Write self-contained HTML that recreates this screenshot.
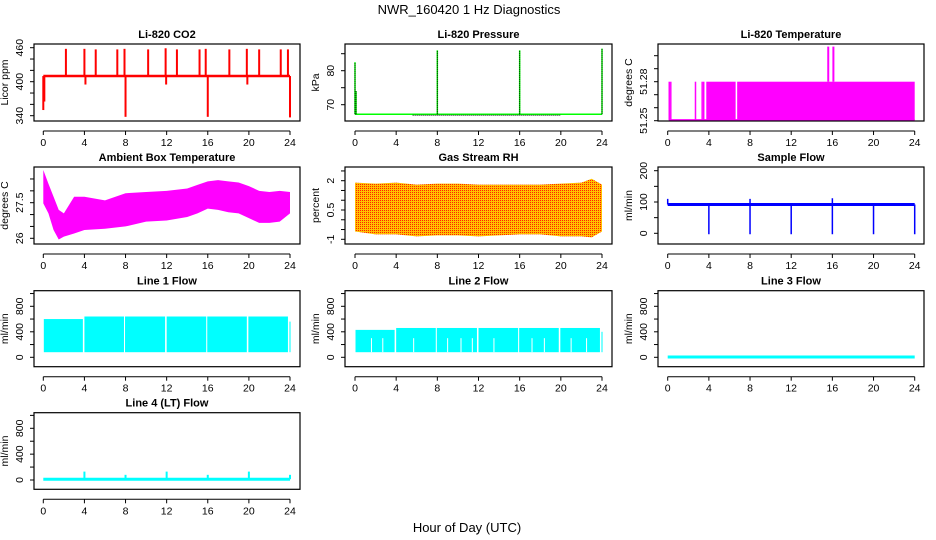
<!DOCTYPE html>
<html><head><meta charset="utf-8"><style>
body{margin:0;background:#fff}
svg{display:block;font-family:"Liberation Sans",sans-serif}
.t{font-weight:bold;font-size:11px}
.tk{font-size:10.5px}
</style></head><body>
<svg id="c" width="936" height="540" viewBox="0 0 936 540">
<defs>
<pattern id="rhp" width="2" height="2" patternUnits="userSpaceOnUse">
<rect width="2" height="2" fill="#ffc000"/><rect width="1" height="1" fill="#ff2000"/>
</pattern>
</defs>
<text x="469" y="14" text-anchor="middle" font-size="13">NWR_160420  1 Hz Diagnostics</text>
<text x="467" y="532" text-anchor="middle" font-size="13">Hour of Day (UTC)</text>
</svg>
<script>
// ---- data ----
const xTicks=[0,4,8,12,16,20,24];
const co2Base=410;
const co2SpikeHours=[0,0.1,2.2,4.0,4.1,5.1,7.2,7.9,8.0,10.2,11.9,11.95,13.0,15.2,15.8,16.0,18.1,19.8,19.85,21.0,23.1,23.8,24.0];
const co2SpikeValues=[350,365,458,458,395,457,457,458,338,457,459,395,457,457,458,338,457,458,395,457,457,457,337];
const presBase=67.2;
const presSpikeHours=[0,0.1,8.0,16.0,24.0];
const presSpikeValues=[82.5,74,86,86,86.5];
const tempLineHours=[0.15,0.3,2.7,3.35,3.5];
const tempFillStart=[3.75,6.75];
const tempFillEnd=[6.6,24];
const tempHighHours=[15.6,16.1];
const tempLow=51.2506, tempHigh=51.28, tempPeak=51.307;
const ambHours=[0,0.5,1,1.5,2,3,4,6,8,10,12,14,15,16,17,18,19,20,21,22,23,24];
const ambUpper=[28.88,28.3,27.75,27.2,27.05,27.75,27.75,27.6,27.9,27.95,28.0,28.1,28.25,28.4,28.45,28.4,28.35,28.2,28.0,27.95,28.0,27.95];
const ambLower=[27.47,27.05,26.35,25.95,26.07,26.2,26.35,26.4,26.5,26.7,26.75,26.9,27.05,27.25,27.2,27.1,27.05,26.85,26.65,26.65,26.7,27.05];
const rhHours=[0,2,4,6,8,10,12,14,16,18,20,22,23,24];
const rhUpper=[1.9,1.85,1.9,1.8,1.85,1.85,1.8,1.8,1.8,1.8,1.85,1.9,2.1,1.8];
const rhLower=[-0.6,-0.75,-0.75,-0.85,-0.8,-0.8,-0.85,-0.8,-0.75,-0.75,-0.85,-0.85,-0.9,-0.6];
const sfBase=92;
const sfDipHours=[4,8,12,16,20,24];
const sfUpHours=[0,8,16];
const sfUpValues=[110,110,112];
const l1Start=[0.05,4.0,7.95,12.0,15.95,19.95,23.95];
const l1End=[3.85,7.85,11.85,15.85,19.8,23.8,24.05];
const l1Upper=[600,640,640,640,640,640,560];
const l1Lower=80;
const l2Start=[0.05,4.0,7.95,12.0,15.95,19.95,23.95];
const l2End=[3.85,7.85,11.85,15.85,19.8,23.8,24.05];
const l2Upper=[430,460,460,460,460,460,400];
const l2Gaps=[1.6,2.7,5.7,9.0,10.3,11.4,13.5,17.2,18.4,21.0,22.5];
const l2Lower=80;
const l3Value=5;
const l4Base=12;
const l4SpikeHours=[4,8,12,16,20,24];
const l4SpikeValues=[130,80,130,80,130,80];

// ---- layout ----
const svg=document.getElementById('c');
const NS='http://www.w3.org/2000/svg';
function el(tag,attrs,parent){const e=document.createElementNS(NS,tag);for(const k in attrs)e.setAttribute(k,attrs[k]);(parent||svg).appendChild(e);return e;}
const cols=[{bx1:34,bx2:300,x0:43.3,x24:290},{bx1:345,bx2:612,x0:355,x24:602},{bx1:658,bx2:924,x0:667.7,x24:914.7}];
const rows=[{by1:44,by2:121},{by1:167,by2:244},{by1:290.7,by2:366.7},{by1:412.7,by2:489.3}];

function panel(name,c,r,title,ylab,v1,p1,v2,p2,yt,yl){
  const C=cols[c],R=rows[r];
  const g=el('g',{});
  
  
  const X=h=>C.x0+(C.x24-C.x0)*h/24;
  const Y=v=>p1+(v-v1)*(p2-p1)/(v2-v1);
  const plot=el('g',{},g);
  
  
  const t=el('text',{x:(C.bx1+C.bx2)/2,y:R.by1-6,'text-anchor':'middle',class:'t'},g);
  t.textContent=title;
  
  
  const box=el('rect',{x:C.bx1,y:R.by1,width:C.bx2-C.bx1,height:R.by2-R.by1,fill:'none',stroke:'#000','stroke-width':1.2},g);
  
  
  const ax=el('g',{},g);
  
  
  const ay=R.by2+10;
  el('line',{x1:X(0),x2:X(24),y1:ay,y2:ay,stroke:'#000'},ax);
  xTicks.forEach(h=>{el('line',{x1:X(h),x2:X(h),y1:ay,y2:ay+4,stroke:'#000'},ax);
    const tl=el('text',{x:X(h),y:ay+15,'text-anchor':'middle',class:'tk'},ax);tl.textContent=h;});
  const yg=el('g',{},g);
  
  
  yt.forEach(v=>{el('line',{x1:C.bx1-4,x2:C.bx1,y1:Y(v),y2:Y(v),stroke:'#000'},yg);});
  yl.forEach(v=>{const tx=C.bx1-11,ty=Y(v);
    const tl=el('text',{x:tx,y:ty,'text-anchor':'middle',transform:`rotate(-90 ${tx} ${ty})`,class:'tk'},yg);tl.textContent=v;});
  const lx=C.bx1-26,ly=(R.by1+R.by2)/2;
  const yL=el('text',{x:lx,y:ly,'text-anchor':'middle',transform:`rotate(-90 ${lx} ${ly})`,class:'tk'},g);
  yL.textContent=ylab;
  
  
  return {X,Y,g:plot};
}
function vline(P,h,a,b,col,w){return el('line',{x1:P.X(h),x2:P.X(h),y1:P.Y(a),y2:P.Y(b),stroke:col,'stroke-width':w||1.5},P.g);}
function hline(P,h1,h2,v,col,w){return el('line',{x1:P.X(h1),x2:P.X(h2),y1:P.Y(v),y2:P.Y(v),stroke:col,'stroke-width':w||2},P.g);}
function rectF(P,h1,h2,a,b,col){return el('rect',{x:P.X(h1),y:P.Y(b),width:P.X(h2)-P.X(h1),height:P.Y(a)-P.Y(b),fill:col},P.g);}

// CO2
let P=panel('co2',0,0,'Li-820 CO2','Licor ppm',460,47.7,340,115.7,[340,360,380,400,420,440,460],[340,400,460]);
hline(P,0,24,co2Base,'#f00',2.5);
co2SpikeHours.forEach((h,i)=>{const l=vline(P,h,co2Base,co2SpikeValues[i],'#f00',2);
 
 });

// Pressure
P=panel('pressure',1,0,'Li-820 Pressure','kPa',80,70.7,70,104.7,[70,75,80,85],[70,80]);
hline(P,0,24,presBase,'#0f0',1.5);
hline(P,5.6,20,presBase-0.3,'#000',1).setAttribute('stroke-dasharray','1 1');
presSpikeHours.forEach((h,i)=>{vline(P,h,presBase,presSpikeValues[i],'#0f0',1.5);
 const l=vline(P,h,presBase,presSpikeValues[i],'#000',1);l.setAttribute('stroke-dasharray','1 1');
 
 });

// Li-820 temperature
P=panel('li820-temp',2,0,'Li-820 Temperature','degrees C',51.25,120.7,51.28,81.7,[51.25,51.26,51.27,51.28,51.29,51.30],[51.25,51.28]);
hline(P,0.1,24,tempLow,'#f0f',1.5);
tempLineHours.forEach(h=>vline(P,h,tempLow,tempHigh,'#f0f',1.5));
tempFillStart.forEach((s,i)=>{const r=rectF(P,s,tempFillEnd[i],tempLow,tempHigh,'#f0f');
 
 });
tempHighHours.forEach(h=>vline(P,h,tempHigh,tempPeak,'#f0f',2));

// Ambient
P=panel('ambient-temp',0,1,'Ambient Box Temperature','degrees C',26.0,238.3,27.5,202.7,[26.0,26.5,27.0,27.5,28.0,28.5],[26.0,27.5]);
{let pts=ambHours.map((h,i)=>P.X(h)+','+P.Y(ambUpper[i]));
 pts=pts.concat(ambHours.slice().reverse().map((h,j)=>{const i=ambHours.length-1-j;return P.X(h)+','+P.Y(ambLower[i]);}));
 const pg=el('polygon',{points:pts.join(' '),fill:'#f0f'},P.g);
 
 }

// RH
P=panel('rh',1,1,'Gas Stream RH','percent',0.5,210,2.0,180.7,[-1.0,-0.5,0,0.5,1.0,1.5,2.0,2.5],[-1.0,0.5,2.0]);
{let pts=rhHours.map((h,i)=>P.X(h)+','+P.Y(rhUpper[i]));
 pts=pts.concat(rhHours.slice().reverse().map((h,j)=>{const i=rhHours.length-1-j;return P.X(h)+','+P.Y(rhLower[i]);}));
 const pg=el('polygon',{points:pts.join(' '),fill:'url(#rhp)'},P.g);
 
 }

// Sample flow
P=panel('sample-flow',2,1,'Sample Flow','ml/min',0,233.3,200,170.7,[0,50,100,150,200],[0,100,200]);
hline(P,0,24,sfBase,'#00f',3);
sfDipHours.forEach(h=>{const l=vline(P,h,sfBase,-3,'#00f',1.5);
 
 });
sfUpHours.forEach((h,i)=>vline(P,h,sfBase,sfUpValues[i],'#00f',1.5));

// Line 1
const flowT=[0,200,400,600,800,1000],flowL=[0,400,800];
P=panel('line1-flow',0,2,'Line 1 Flow','ml/min',0,357.3,800,306.3,flowT,flowL);
l1Start.forEach((s,i)=>{const r=rectF(P,s,l1End[i],l1Lower,l1Upper[i],'#0ff');
 
 });

// Line 2
P=panel('line2-flow',1,2,'Line 2 Flow','ml/min',0,357.3,800,306.3,flowT,flowL);
l2Start.forEach((s,i)=>{const r=rectF(P,s,l2End[i],l2Lower,l2Upper[i],'#0ff');
 
 });
l2Gaps.forEach(h=>vline(P,h,l2Lower,300,'#fff',1));

// Line 3
P=panel('line3-flow',2,2,'Line 3 Flow','ml/min',0,357.3,800,306.3,flowT,flowL);
{const l=hline(P,0,24,l3Value,'#0ff',3);
 
 }

// Line 4
P=panel('line4-flow',0,3,'Line 4 (LT) Flow','ml/min',0,480,800,428.3,flowT,flowL);
hline(P,0,24,l4Base,'#0ff',3);
l4SpikeHours.forEach((h,i)=>{const l=vline(P,h,l4Base,l4SpikeValues[i],'#0ff',2);
 
 });
</script>
</body></html>
